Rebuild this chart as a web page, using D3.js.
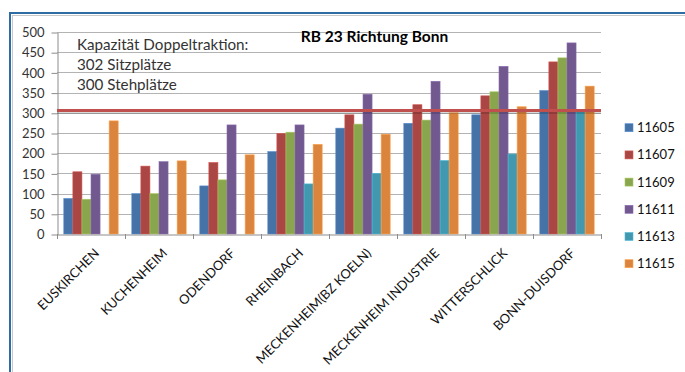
<!DOCTYPE html>
<html>
<head>
<meta charset="utf-8">
<script src="https://cdn.jsdelivr.net/npm/d3@7"></script>
<style>
  html, body { margin: 0; padding: 0; background: #fff; }
  svg { display: block; font-family: Lato, "Open Sans", sans-serif; }
</style>
</head>
<body>
<svg id="chart" width="685" height="372"></svg>
<script>
// Stations along the line (x categories)
const categories = ["EUSKIRCHEN", "KUCHENHEIM", "ODENDORF", "RHEINBACH",
  "MECKENHEIM(BZ KOELN)", "MECKENHEIM INDUSTRIE", "WITTERSCHLICK", "BONN-DUISDORF"];

// Train numbers (series)
const seriesNames = ["11605", "11607", "11609", "11611", "11613", "11615"];

// Passengers per train and station
const s11605 = [88, 100, 119, 204, 262, 274, 295, 355];
const s11607 = [154, 168, 177, 249, 295, 320, 342, 426];
const s11609 = [86, 100, 134, 252, 272, 282, 352, 436];
const s11611 = [148, 179, 270, 270, 346, 378, 415, 473];
const s11613 = [0, 0, 0, 124, 150, 182, 198, 304];
const s11615 = [280, 181, 196, 222, 247, 300, 315, 366];

const seriesValues = [s11605, s11607, s11609, s11611, s11613, s11615];
const seriesColors = ["#4572a7", "#aa4643", "#89a54e", "#71588f", "#4198af", "#db843d"];

// Capacity reference line and y ticks
const capacityValue = 306;
const yTicks = [0, 50, 100, 150, 200, 250, 300, 350, 400, 450, 500];

const title = "RB 23 Richtung Bonn";
const noteLines = ["Kapazität Doppeltraktion:", "302 Sitzplätze", "300 Stehplätze"];

const svg = d3.select("#chart");

// Outer chart frame
svg.append("rect").attr("x", 10).attr("y", 13).attr("width", 720).attr("height", 420)
  .attr("fill", "none").attr("stroke", "#2d6da3").attr("stroke-width", 2);
svg.append("rect").attr("x", 12.5).attr("y", 15.5).attr("width", 720).attr("height", 420)
  .attr("fill", "none").attr("stroke", "#c8c8c8").attr("stroke-width", 1);

const plot = { left: 57, right: 601, top: 32, bottom: 234 };

const x = d3.scaleBand().domain(categories).range([plot.left, plot.right]);
const xs = d3.scaleBand().domain(seriesNames).range([0, x.bandwidth()])
  .paddingInner(0).paddingOuter(0.75);
const y = d3.scaleLinear().domain([0, 500]).range([plot.bottom, plot.top]);

// Gridlines
svg.append("g").selectAll("line").data(yTicks.filter(d => d > 0)).join("line")
  .attr("x1", plot.left).attr("x2", plot.right)
  .attr("y1", d => Math.round(y(d)) + 0.5).attr("y2", d => Math.round(y(d)) + 0.5)
  .attr("stroke", "#b3b3b3").attr("stroke-width", 1);

// Y axis
const yAxis = d3.axisLeft(y).tickValues(yTicks).tickSize(6).tickSizeOuter(0).tickPadding(7);
const gy = svg.append("g").attr("transform", `translate(${plot.left + 0.5},0.5)`).call(yAxis);
gy.select(".domain").attr("stroke", "#8c8c8c");
gy.selectAll(".tick line").attr("stroke", "#8c8c8c");
gy.selectAll(".tick text").attr("fill", "#333").style("font-size", "13px")
  .style("font-family", "Lato, sans-serif");

// Bars
const bars = svg.append("g");
seriesNames.forEach((name, si) => {
  bars.append("g").selectAll("rect")
    .data(categories.map((c, ci) => ({ c, v: seriesValues[si][ci] })).filter(d => d.v > 0))
    .join("rect")
    .attr("x", d => x(d.c) + xs(name))
    .attr("width", xs.bandwidth())
    .attr("y", d => y(d.v))
    .attr("height", d => y(0) - y(d.v))
    .attr("fill", seriesColors[si])
    .attr("stroke", d3.color(seriesColors[si]).brighter(0.6))
    .attr("stroke-width", 0.6);
});

// X axis
const xAxis = d3.axisBottom(x).tickSize(0).tickFormat(() => "");
const gx = svg.append("g").attr("transform", `translate(0,${plot.bottom + 0.5})`).call(xAxis);
gx.select(".domain").attr("stroke", "#8c8c8c");
const boundaries = categories.map(c => x(c)).concat([plot.right]);
svg.append("g").selectAll("line").data(boundaries).join("line")
  .attr("x1", d => Math.round(d) + 0.5).attr("x2", d => Math.round(d) + 0.5)
  .attr("y1", plot.bottom).attr("y2", plot.bottom + 5)
  .attr("stroke", "#8c8c8c");

// Rotated category labels
svg.append("g").selectAll("text").data(categories).join("text")
  .attr("transform", d => `translate(${x(d) + x.bandwidth() / 2 + 9},${plot.bottom + 20}) rotate(-45)`)
  .attr("text-anchor", "end")
  .attr("fill", "#111")
  .style("font-size", "13px")
  .text(d => d);

// Capacity line with soft shadow
const cy = y(capacityValue);
svg.append("line").attr("x1", plot.left).attr("x2", plot.right)
  .attr("y1", cy + 2).attr("y2", cy + 2)
  .attr("stroke", "#000").attr("stroke-opacity", 0.15).attr("stroke-width", 3);
svg.append("line").attr("x1", plot.left).attr("x2", plot.right)
  .attr("y1", cy).attr("y2", cy)
  .attr("stroke", "#c0504d").attr("stroke-width", 3);

// Title
svg.append("text").attr("x", 374.5).attr("y", 42).attr("text-anchor", "middle")
  .attr("fill", "#000").style("font-size", "15.5px").style("font-weight", "bold")
  .text(title);

// Capacity note
svg.append("g").selectAll("text").data(noteLines).join("text")
  .attr("x", 77).attr("y", (d, i) => 50 + i * 20)
  .attr("fill", "#333").style("font-size", "15.2px")
  .text(d => d);

// Legend
const legend = svg.append("g").selectAll("g").data(seriesNames).join("g")
  .attr("transform", (d, i) => `translate(625,${127.7 + i * 27.2})`);
legend.append("rect").attr("x", 0).attr("y", -4).attr("width", 8).attr("height", 8)
  .attr("fill", (d, i) => seriesColors[i])
  .attr("stroke", (d, i) => d3.color(seriesColors[i]).brighter(0.6)).attr("stroke-width", 0.6);
legend.append("text").attr("x", 12).attr("y", 0).attr("dy", "0.35em")
  .attr("fill", "#111").style("font-size", "13px")
  .text(d => d);
</script>
</body>
</html>
